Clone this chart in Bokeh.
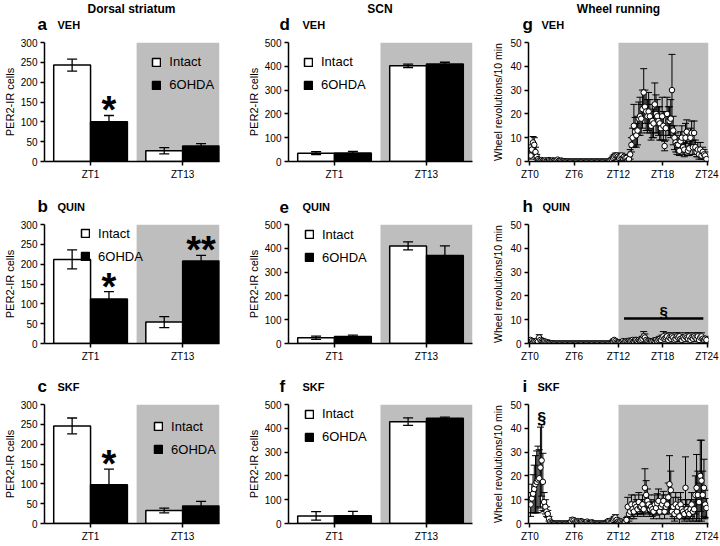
import numpy as np
from bokeh.plotting import figure
from bokeh.layouts import column, row
from bokeh.models import (Range1d, FixedTicker, BoxAnnotation, Whisker, ColumnDataSource,
                          Legend, LegendItem, Label, TeeHead)
from bokeh.core.properties import value
from bokeh.embed import file_html
from bokeh.resources import INLINE

FONT = "Liberation Sans"
GRAY = "#bebebe"

# ---------------- bar-chart data (PER2-IR cells) ----------------
bar_times = ["ZT1", "ZT13"]
bar_groups = ["Intact", "6OHDA"]
dark_from = "ZT13"

ds_veh_intact = [243, 27]
ds_veh_intact_sem = [15, 8]
ds_veh_ohda = [100, 39]
ds_veh_ohda_sem = [16, 6]
ds_veh_sig = ["*", ""]

ds_quin_intact = [212, 54]
ds_quin_intact_sem = [24, 14]
ds_quin_ohda = [112, 208]
ds_quin_ohda_sem = [19, 14]
ds_quin_sig = ["*", "**"]

ds_skf_intact = [246, 33]
ds_skf_intact_sem = [20, 6]
ds_skf_ohda = [98, 44]
ds_skf_ohda_sem = [39, 12]
ds_skf_sig = ["*", ""]

scn_veh_intact = [35, 402]
scn_veh_intact_sem = [6, 7]
scn_veh_ohda = [36, 410]
scn_veh_ohda_sem = [6, 7]

scn_quin_intact = [24, 410]
scn_quin_intact_sem = [7, 17]
scn_quin_ohda = [29, 370]
scn_quin_ohda_sem = [6, 40]

scn_skf_intact = [32, 428]
scn_skf_intact_sem = [18, 16]
scn_skf_ohda = [33, 442]
scn_skf_ohda_sem = [18, 5]

# ---------------- wheel running (revolutions / 10 min, 10-min bins) ----------------
wheel_ticks = [0, 6, 12, 18, 24]
wheel_tick_labels = ["ZT0", "ZT6", "ZT12", "ZT18", "ZT24"]
wheel_dark_from = 12
bins_per_hour = 6

veh_mean = [
    2.5, 5.0, 8.0, 7.0, 4.0, 2.0,
    1.0, 0.5, 0.3, 0.6, 0.3, 0.2,
    0.5, 0.2, 0.4, 0.6, 0.3, 0.2,
    0.5, 0.3, 0.2, 0.4, 0.8, 0.3,
    0.2, 0.4, 0.2, 0.1, 0.1, 0.0,
    0.1, 0.0, 0.0, 0.0, 0.0, 0.0,
    0.0, 0.0, 0.0, 0.0, 0.0, 0.0,
    0.0, 0.0, 0.0, 0.0, 0.0, 0.0,
    0.0, 0.0, 0.0, 0.0, 0.0, 0.0,
    0.0, 0.0, 0.0, 0.0, 0.0, 0.0,
    0.0, 0.0, 0.0, 0.0, 0.2, 0.5,
    1.0, 1.5, 2.0, 2.5, 2.5, 2.0,
    1.5, 2.0, 2.5, 1.5, 2.0, 1.5,
    1.5, 0.5, 1.0, 3.0, 7.0, 10.0,
    15.0, 12.5, 11.0, 13.0, 18.0, 19.0,
    18.0, 22.0, 29.0, 23.0, 21.0, 19.0,
    21.0, 19.0, 15.0, 17.0, 16.0, 24.0,
    20.0, 19.0, 17.0, 16.0, 14.0, 19.0,
    15.0, 6.5, 14.0, 20.0, 17.0, 17.0,
    18.0, 30.0, 13.0, 10.0, 8.0, 7.0,
    7.0, 4.5, 8.5, 10.0, 6.0, 5.0,
    10.0, 12.5, 4.5, 5.5, 10.0, 12.0,
    6.0, 12.0, 6.0, 4.0, 5.0, 3.0,
    5.0, 2.5, 4.0, 3.0, 2.5, 1.0,
]
veh_sem = [
    1.5, 2.0, 2.5, 3.0, 2.0, 1.0,
    0.5, 0.3, 0.2, 0.3, 0.2, 0.2,
    0.3, 0.2, 0.3, 0.3, 0.2, 0.2,
    0.3, 0.2, 0.2, 0.3, 0.5, 0.2,
    0.2, 0.3, 0.2, 0.1, 0.1, 0.0,
    0.1, 0.0, 0.0, 0.0, 0.0, 0.0,
    0.0, 0.0, 0.0, 0.0, 0.0, 0.0,
    0.0, 0.0, 0.0, 0.0, 0.0, 0.0,
    0.0, 0.0, 0.0, 0.0, 0.0, 0.0,
    0.0, 0.0, 0.0, 0.0, 0.0, 0.0,
    0.0, 0.0, 0.0, 0.0, 0.2, 0.3,
    0.5, 0.8, 1.0, 1.0, 1.0, 0.8,
    0.8, 1.0, 1.0, 0.8, 1.0, 0.8,
    0.8, 0.5, 1.0, 2.0, 3.0, 4.0,
    9.0, 6.0, 5.0, 6.0, 7.0, 8.0,
    6.0, 8.0, 10.0, 7.0, 8.0, 7.0,
    8.0, 7.0, 6.0, 7.0, 6.0, 9.0,
    8.0, 7.0, 6.0, 7.0, 5.0, 8.0,
    6.0, 2.0, 5.0, 7.0, 6.0, 6.0,
    8.0, 15.0, 6.0, 5.0, 4.0, 4.0,
    3.0, 2.0, 4.0, 5.0, 3.0, 3.0,
    6.0, 5.0, 2.0, 3.0, 4.0, 5.0,
    3.0, 5.0, 3.0, 2.0, 3.0, 2.0,
    3.0, 1.5, 2.0, 2.0, 1.5, 1.0,
]

quin_mean = [
    1.5, 1.0, 0.5, 1.0, 0.8, 1.2,
    0.8, 2.5, 1.5, 1.0, 0.8, 1.0,
    0.8, 0.5, 0.5, 0.3, 0.2, 0.1,
    0.1, 0.0, 0.0, 0.0, 0.0, 0.0,
    0.0, 0.0, 0.0, 0.0, 0.0, 0.0,
    0.0, 0.0, 0.0, 0.0, 0.0, 0.0,
    0.0, 0.0, 0.0, 0.0, 0.0, 0.0,
    0.0, 0.0, 0.0, 0.0, 0.0, 0.0,
    0.0, 0.0, 0.0, 0.0, 0.0, 0.0,
    0.0, 0.0, 0.0, 0.0, 0.0, 0.0,
    0.0, 0.0, 0.0, 0.0, 0.0, 0.0,
    0.2, 1.0, 1.5, 1.0, 0.5, 0.3,
    0.5, 0.3, 0.5, 1.0, 0.5, 0.8,
    1.0, 0.8, 1.2, 1.0, 1.2, 1.5,
    1.0, 1.5, 1.5, 1.0, 1.5, 1.2,
    1.5, 2.0, 3.0, 2.5, 1.5, 1.0,
    0.8, 0.5, 1.0, 0.8, 1.2, 1.0,
    1.5, 1.0, 1.5, 2.0, 1.5, 2.5,
    3.0, 2.0, 2.5, 3.0, 1.5, 2.5,
    2.0, 3.0, 2.5, 1.5, 2.0, 3.0,
    2.5, 3.0, 2.0, 1.5, 2.5, 2.0,
    3.0, 2.5, 2.0, 3.0, 1.5, 2.5,
    2.0, 3.0, 2.5, 2.0, 3.0, 1.5,
    2.5, 3.0, 2.0, 1.5, 2.0, 1.5,
]
quin_sem = [
    0.5, 0.5, 0.3, 0.5, 0.5, 0.5,
    0.5, 1.2, 0.8, 0.5, 0.5, 0.5,
    0.3, 0.3, 0.3, 0.2, 0.1, 0.1,
    0.1, 0.0, 0.0, 0.0, 0.0, 0.0,
    0.0, 0.0, 0.0, 0.0, 0.0, 0.0,
    0.0, 0.0, 0.0, 0.0, 0.0, 0.0,
    0.0, 0.0, 0.0, 0.0, 0.0, 0.0,
    0.0, 0.0, 0.0, 0.0, 0.0, 0.0,
    0.0, 0.0, 0.0, 0.0, 0.0, 0.0,
    0.0, 0.0, 0.0, 0.0, 0.0, 0.0,
    0.0, 0.0, 0.0, 0.0, 0.0, 0.0,
    0.2, 0.5, 0.6, 0.5, 0.3, 0.2,
    0.3, 0.2, 0.3, 0.5, 0.3, 0.4,
    0.5, 0.4, 0.5, 0.5, 0.5, 0.6,
    0.5, 0.6, 0.6, 0.5, 0.6, 0.5,
    0.8, 1.0, 2.0, 1.5, 0.8, 0.5,
    0.5, 0.3, 0.5, 0.4, 0.6, 0.5,
    0.8, 0.5, 0.8, 1.0, 0.8, 1.0,
    2.0, 1.0, 1.2, 1.5, 0.8, 1.2,
    1.0, 1.5, 1.2, 0.8, 1.0, 1.5,
    1.2, 1.5, 1.0, 0.8, 1.2, 1.0,
    1.5, 1.2, 1.0, 1.5, 0.8, 1.2,
    1.0, 1.5, 1.2, 1.0, 1.5, 0.8,
    1.2, 1.5, 1.0, 0.8, 1.0, 0.8,
]
quin_sig_text = "\u00a7"
quin_sig_start = 12.75
quin_sig_end = 23.5
quin_sig_level = 10.5

skf_mean = [
    8.0, 10.5, 12.5, 14.5, 16.5, 17.5,
    18.5, 19.0, 23.5, 26.5, 17.5, 9.0,
    7.0, 5.0, 4.0, 2.0, 0.8, 0.3,
    0.1, 0.0, 0.0, 0.0, 0.0, 0.0,
    0.0, 0.0, 0.0, 0.0, 0.0, 0.0,
    0.0, 0.0, 0.3, 0.8, 1.6, 1.2,
    0.5, 0.3, 1.0, 0.8, 0.5, 1.0,
    0.8, 0.5, 0.3, 0.5, 0.8, 0.3,
    0.2, 0.3, 0.5, 0.2, 0.0, 0.0,
    0.0, 0.0, 0.0, 0.0, 0.0, 0.0,
    0.0, 0.2, 0.5, 1.0, 0.8, 0.3,
    0.5, 1.5, 2.0, 2.5, 1.5, 0.8,
    0.5, 1.0, 0.8, 0.5, 0.3, 0.5,
    1.5, 7.0, 4.0, 5.0, 8.0, 6.0,
    5.0, 8.0, 7.0, 6.0, 9.0, 7.0,
    7.0, 8.0, 6.0, 15.0, 12.0, 9.5,
    8.0, 6.0, 7.0, 6.0, 5.0, 8.0,
    6.5, 8.5, 9.5, 5.0, 7.0, 8.0,
    9.5, 5.0, 7.0, 8.0, 11.0, 16.5,
    14.0, 5.0, 7.0, 4.0, 8.0, 5.0,
    7.0, 3.0, 8.0, 6.0, 5.0, 4.0,
    15.0, 6.0, 5.0, 4.0, 6.0, 8.0,
    5.0, 6.0, 12.0, 15.0, 12.0, 9.0,
    20.0, 18.0, 12.0, 15.0, 8.0, 6.5,
]
skf_sem = [
    5.0, 6.0, 8.0, 10.0, 12.0, 13.0,
    14.0, 12.0, 17.0, 15.0, 12.0, 4.0,
    3.0, 2.0, 1.5, 1.0, 0.5, 0.2,
    0.1, 0.0, 0.0, 0.0, 0.0, 0.0,
    0.0, 0.0, 0.0, 0.0, 0.0, 0.0,
    0.0, 0.0, 0.2, 0.5, 0.8, 0.6,
    0.3, 0.2, 0.5, 0.4, 0.3, 0.5,
    0.4, 0.3, 0.2, 0.3, 0.4, 0.2,
    0.1, 0.2, 0.3, 0.1, 0.0, 0.0,
    0.0, 0.0, 0.0, 0.0, 0.0, 0.0,
    0.0, 0.1, 0.3, 0.5, 0.4, 0.2,
    0.3, 0.8, 1.0, 1.2, 0.8, 0.5,
    0.3, 0.5, 0.5, 0.3, 0.2, 0.3,
    1.0, 4.0, 3.0, 3.0, 4.0, 3.0,
    3.0, 4.0, 3.0, 3.0, 4.0, 3.0,
    3.0, 4.0, 3.0, 8.0, 6.0, 5.0,
    4.0, 3.0, 3.0, 3.0, 3.0, 4.0,
    3.0, 4.0, 5.0, 3.0, 3.0, 4.0,
    4.0, 3.0, 3.0, 4.0, 6.0, 12.0,
    8.0, 3.0, 4.0, 3.0, 5.0, 3.0,
    4.0, 3.0, 5.0, 4.0, 3.0, 3.0,
    13.0, 4.0, 3.0, 3.0, 4.0, 5.0,
    4.0, 4.0, 8.0, 14.0, 10.0, 8.0,
    15.0, 17.0, 10.0, 12.0, 6.0, 4.0,
]
skf_sig_text = "\u00a7"

# ---------------- layout (px) ----------------
FRAME_H = 120
HEAD_H = [35, 35, 33]
HEAD_TEXT_Y = [11, 11, 11]     # centre of panel letter line, from header bottom
TITLE_Y = 27                   # centre of column titles, from header bottom
PLOT_TOP = 7
PLOT_BOTTOM = 20
COL_LEFT = [43, 43, 40]
COL_FRAME_W = [176, 185, 180]
COL_RIGHT = [25, 16, 12]
LETTER_DX = [-6, -8, -6]


def col_width(col):
    return COL_LEFT[col] + COL_FRAME_W[col] + COL_RIGHT[col]


def header(col, rw, letter, drug, drug_dx, col_title=None):
    cw, hh = col_width(col), HEAD_H[rw]
    h = figure(width=cw, height=hh, x_range=Range1d(0, cw), y_range=Range1d(0, hh),
               x_axis_type=None, y_axis_type=None, min_border=0,
               toolbar_location=None, output_backend="svg")
    h.outline_line_color = None
    fx = COL_LEFT[col]
    ty = HEAD_TEXT_Y[rw]
    if col_title:
        h.text(x=[fx + COL_FRAME_W[col] / 2], y=[TITLE_Y], text=[col_title],
               text_font=value(FONT), text_font_size="12px", text_font_style="bold",
               text_align="center", text_baseline="middle", text_color="black")
    h.text(x=[fx + LETTER_DX[col]], y=[ty], text=[letter], text_font=value(FONT),
           text_font_size="17px", text_font_style="bold", text_align="left",
           text_baseline="middle", text_color="black")
    h.text(x=[fx + drug_dx], y=[ty], text=[drug], text_font=value(FONT), text_font_size="11px",
           text_font_style="bold", text_align="left", text_baseline="middle", text_color="black")
    return h


def make_fig(col, x_range, y_range):
    p = figure(width=col_width(col), height=PLOT_TOP + FRAME_H + PLOT_BOTTOM,
               x_range=x_range, y_range=y_range,
               output_backend="svg", toolbar_location=None,
               min_border_left=COL_LEFT[col], min_border_right=COL_RIGHT[col],
               min_border_top=PLOT_TOP, min_border_bottom=PLOT_BOTTOM)
    p.outline_line_color = None
    p.grid.visible = False
    for ax in p.axis:
        ax.axis_line_width = 1.5
        ax.axis_line_color = "black"
        ax.major_tick_line_width = 1.5
        ax.major_tick_line_color = "black"
        ax.major_tick_out = 4
        ax.major_tick_in = 0
        ax.minor_tick_out = 0
        ax.minor_tick_in = 0
        ax.major_label_text_font = FONT
        ax.major_label_text_font_size = "10px"
        ax.major_label_text_color = "black"
        ax.major_label_standoff = 3
        ax.axis_label_text_font = FONT
        ax.axis_label_text_font_style = "normal"
        ax.axis_label_text_color = "black"
    return p


def bar_panel(col, intact, intact_sem, ohda, ohda_sem, ymax, ystep, xend,
              legend_fx, legend_fc, sig=None):
    p = make_fig(col, Range1d(0, xend), Range1d(0, ymax))
    xc = np.arange(len(bar_times)) + 0.5
    p.add_layout(BoxAnnotation(left=bar_times.index(dark_from), fill_color=GRAY, fill_alpha=1,
                               line_color=None, level="underlay"))
    renderers = []
    for vals, sems, off, color in ((intact, intact_sem, -0.2, "white"), (ohda, ohda_sem, 0.2, "black")):
        v = np.array(vals, float)
        s = np.array(sems, float)
        src = ColumnDataSource(dict(x=xc + off, top=v, lo=v - s, hi=v + s))
        r = p.vbar(x="x", top="top", width=0.4, source=src, fill_color=color,
                   line_color="black", line_width=1.5)
        renderers.append(r)
        p.add_layout(Whisker(base="x", upper="hi", lower="lo", source=src, line_width=1.3,
                             line_color="black", level="overlay",
                             upper_head=TeeHead(size=10, line_width=1.3, line_color="black"),
                             lower_head=TeeHead(size=10, line_width=1.3, line_color="black")))
    if sig:
        top = np.array(ohda, float) + np.array(ohda_sem, float)
        for i, s in enumerate(sig):
            if s:
                p.add_layout(Label(x=xc[i] + 0.2, y=top[i], text=s, text_font=FONT,
                                   text_font_size="38px", text_font_style="bold",
                                   text_color="black", text_align="center",
                                   text_baseline="alphabetic", y_offset=5))
    W = COL_FRAME_W[col]
    leg_h = 2 * 20 + 3
    lx = legend_fx * W
    ly = FRAME_H - (legend_fc * FRAME_H - 10) - leg_h
    leg = Legend(items=[LegendItem(label=bar_groups[0], renderers=[renderers[0]]),
                        LegendItem(label=bar_groups[1], renderers=[renderers[1]])],
                 location=(lx, ly), orientation="vertical",
                 label_text_font=FONT, label_text_font_size="13px", label_text_color="black",
                 glyph_width=10, glyph_height=10, label_height=20, spacing=3,
                 padding=0, margin=0, label_standoff=8,
                 border_line_color=None, background_fill_alpha=0)
    p.add_layout(leg)
    p.xaxis.ticker = FixedTicker(ticks=list(xc))
    p.xaxis.major_label_overrides = {float(x): t for x, t in zip(xc, bar_times)}
    p.yaxis.ticker = FixedTicker(ticks=list(range(0, ymax + 1, ystep)))
    p.yaxis.axis_label = "PER2-IR cells"
    p.yaxis.axis_label_text_font_size = "11px"
    p.yaxis.axis_label_standoff = 2
    return p


def wheel_panel(mean, sem):
    p = make_fig(2, Range1d(-0.2, 24.2), Range1d(0, 50))
    zt = np.arange(len(mean)) / bins_per_hour + 0.5 / bins_per_hour
    m = np.array(mean, float)
    s = np.array(sem, float)
    p.add_layout(BoxAnnotation(left=wheel_dark_from, fill_color=GRAY, fill_alpha=1,
                               line_color=None, level="underlay"))
    src = ColumnDataSource(dict(x=zt, y=m, lo=np.clip(m - s, 0, None), hi=m + s))
    p.add_layout(Whisker(base="x", upper="hi", lower="lo", source=src, line_width=1,
                         line_color="black", level="underlay",
                         upper_head=TeeHead(size=7, line_width=1, line_color="black"),
                         lower_head=TeeHead(size=7, line_width=1, line_color="black")))
    p.scatter("x", "y", source=src, size=5.5, fill_color="white", line_color="black", line_width=1)
    p.xaxis.ticker = FixedTicker(ticks=wheel_ticks)
    p.xaxis.major_label_overrides = {t: l for t, l in zip(wheel_ticks, wheel_tick_labels)}
    p.yaxis.ticker = FixedTicker(ticks=list(range(0, 51, 10)))
    p.yaxis.axis_label = "Wheel revolutions/10 min"
    p.yaxis.axis_label_text_font_size = "10.5px"
    p.yaxis.axis_label_standoff = 3
    return p


pa = bar_panel(0, ds_veh_intact, ds_veh_intact_sem, ds_veh_ohda, ds_veh_ohda_sem,
               300, 50, 1.9, 0.61, 0.172, ds_veh_sig)
pb = bar_panel(0, ds_quin_intact, ds_quin_intact_sem, ds_quin_ohda, ds_quin_ohda_sem,
               300, 50, 1.9, 0.205, 0.085, ds_quin_sig)
pc = bar_panel(0, ds_skf_intact, ds_skf_intact_sem, ds_skf_ohda, ds_skf_ohda_sem,
               300, 50, 1.9, 0.62, 0.194, ds_skf_sig)

pd = bar_panel(1, scn_veh_intact, scn_veh_intact_sem, scn_veh_ohda, scn_veh_ohda_sem,
               500, 100, 2.0, 0.081, 0.172)
pe = bar_panel(1, scn_quin_intact, scn_quin_intact_sem, scn_quin_ohda, scn_quin_ohda_sem,
               500, 100, 2.0, 0.086, 0.095)
pf = bar_panel(1, scn_skf_intact, scn_skf_intact_sem, scn_skf_ohda, scn_skf_ohda_sem,
               500, 100, 2.0, 0.086, 0.09)

pg = wheel_panel(veh_mean, veh_sem)
ph = wheel_panel(quin_mean, quin_sem)
ph.segment(x0=[quin_sig_start], y0=[quin_sig_level], x1=[quin_sig_end], y1=[quin_sig_level],
           line_color="black", line_width=2.5)
ph.add_layout(Label(x=(quin_sig_start + quin_sig_end) / 2, y=quin_sig_level, text=quin_sig_text,
                    text_font=FONT, text_font_size="15px", text_font_style="bold",
                    text_color="black", text_align="center", text_baseline="alphabetic",
                    y_offset=7))
pi = wheel_panel(skf_mean, skf_sem)
k = int(np.argmax(skf_mean))
pi.add_layout(Label(x=k / bins_per_hour + 0.5 / bins_per_hour, y=skf_mean[k] + skf_sem[k],
                    text=skf_sig_text, text_font=FONT, text_font_size="16px",
                    text_font_style="bold", text_color="black", text_align="center",
                    text_baseline="alphabetic", y_offset=6))

ha = header(0, 0, "a", "VEH", 14, "Dorsal striatum")
hb = header(0, 1, "b", "QUIN", 14)
hc = header(0, 2, "c", "SKF", 14)
hd = header(1, 0, "d", "VEH", 15, "SCN")
he = header(1, 1, "e", "QUIN", 15)
hf = header(1, 2, "f", "SKF", 15)
hg = header(2, 0, "g", "VEH", 13, "Wheel running")
hh = header(2, 1, "h", "QUIN", 14)
hi = header(2, 2, "i", "SKF", 9)

layout = column(row(ha, hd, hg), row(pa, pd, pg),
                row(hb, he, hh), row(pb, pe, ph),
                row(hc, hf, hi), row(pc, pf, pi))

open("out.html", "w").write(file_html(layout, INLINE))
